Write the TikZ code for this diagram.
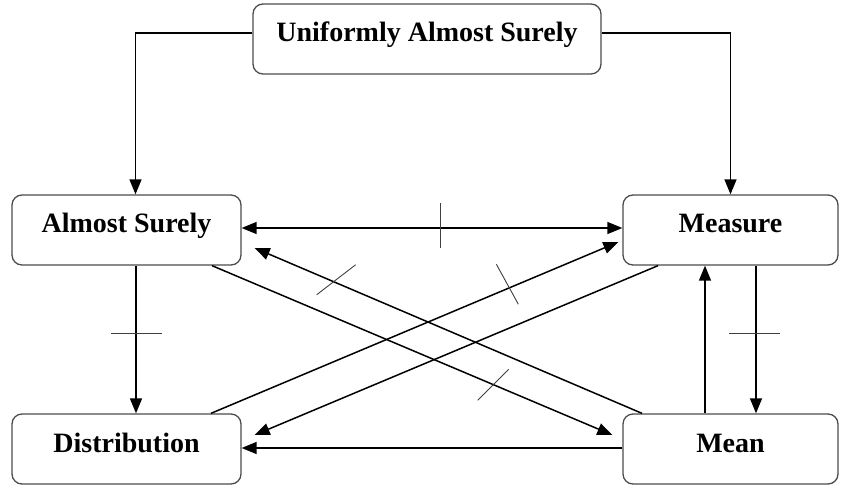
\documentclass[tikz,border=0pt]{standalone}
\usepackage{fontspec}
\setmainfont{Liberation Serif}
\usepackage{tikz}
\usetikzlibrary{arrows.meta,calc}
\colorlet{BoxEdge}{black!70}
\colorlet{TickGray}{black!75}

\begin{document}
\begin{tikzpicture}[
  x=1pt, y=-1pt,
  mode/.style={draw=BoxEdge, line width=1.3pt, rounded corners=10pt, inner sep=0pt, text height=38pt, text depth=32pt, font=\fontsize{28}{30}\selectfont\bfseries},
  implies/.style={-{Triangle[length=15pt,width=12pt]}, line width=1.5pt},
  equiv/.style={{Triangle[length=15pt,width=12pt]}-{Triangle[length=15pt,width=12pt]}, line width=1.5pt},
  nottick/.style={line width=0.9pt, TickGray}
]
\useasboundingbox (0,0) rectangle (843,486);

% Modes of convergence
\node[mode, minimum width=348pt] (uas) at (427,39) {Uniformly Almost Surely};
\node[mode, minimum width=229pt] (as) at (126.5,230) {Almost Surely};
\node[mode, minimum width=215pt] (meas) at (730.5,230) {Measure};
\node[mode, minimum width=229pt] (dist) at (126.5,449) {Distribution};
\node[mode, minimum width=215pt] (mean) at (730.5,449) {Mean};

% From the top box
\draw[implies] ([yshift=6pt]uas.west) -| ([xshift=9pt]as.north);
\draw[implies] ([yshift=6pt]uas.east) -| (meas.north);

% Almost surely and measure
\draw[equiv] ([yshift=2pt]as.east) -- coordinate[pos=0.521] (tA) ([yshift=2pt]meas.west);
\draw[nottick] ([yshift=25pt]tA) -- ([yshift=-20pt]tA);

% Vertical implications
\draw[implies] ([xshift=9.5pt]as.south) -- coordinate[pos=0.456] (tB) ([xshift=9.5pt]dist.north);
\draw[nottick] ([xshift=-25pt]tB) -- ([xshift=26pt]tB);
\draw[implies] ([xshift=25.5pt]meas.south) -- coordinate[pos=0.456] (tC) ([xshift=25.5pt]mean.north);
\draw[nottick] ([xshift=-27pt]tC) -- ([xshift=24pt]tC);
\draw[implies] ([xshift=-25.5pt]mean.north) -- ([xshift=-25.5pt]meas.south);

% Bottom
\draw[implies] ([yshift=1pt]mean.west) -- ([yshift=1pt]dist.east);

% Diagonals
\draw[implies] ([xshift=85.5pt]as.south) -- coordinate[pos=0.701] (tD) ([xshift=-10pt,yshift=14pt]mean.west);
\draw[nottick] ([shift={(-15pt,-16pt)}]tD) -- ([shift={(16pt,15pt)}]tD);
\draw[implies] ([xshift=-88.5pt]mean.north) -- coordinate[pos=0.796] (tE) ([xshift=13pt,yshift=-18pt]as.east);
\draw[nottick] ([shift={(-17pt,-13pt)}]tE) -- ([shift={(22pt,17pt)}]tE);
\draw[implies] ([xshift=84.5pt]dist.north) -- coordinate[pos=0.730] (tF) ([xshift=-4pt,yshift=-12pt]meas.west);
\draw[nottick] ([shift={(-12pt,24pt)}]tF) -- ([shift={(10pt,-16pt)}]tF);
\draw[implies] ([xshift=-72.5pt]meas.south) -- ([xshift=13pt,yshift=14pt]dist.east);

\end{tikzpicture}
\end{document}
